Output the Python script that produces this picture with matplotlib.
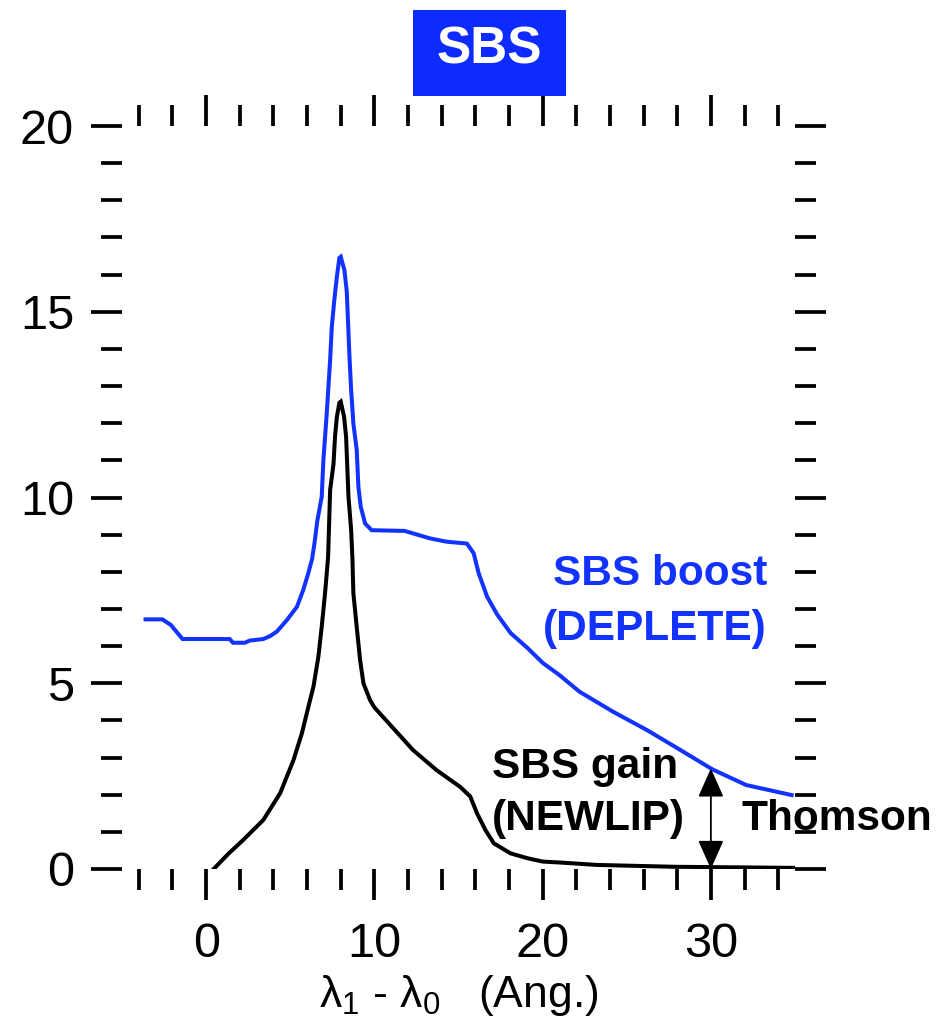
import matplotlib
matplotlib.use("Agg")
import matplotlib.pyplot as plt
from matplotlib.patches import Rectangle
import numpy as np

plt.rcParams['font.family'] = ['Liberation Sans', 'DejaVu Sans']
plt.rcParams['mathtext.fontset'] = 'custom'
plt.rcParams['mathtext.rm'] = 'Liberation Sans'
plt.rcParams['mathtext.it'] = 'Liberation Sans'

# ---- data ----
boost_x = [-3.6, -2.6, -2.1, -1.4, 1.4, 1.6, 2.3, 2.6, 3.4, 3.8, 4.2, 4.8, 5.4, 5.77,
           6.07, 6.3, 6.45, 6.6, 6.87, 6.97, 7.07, 7.17, 7.37, 7.47, 7.62, 7.77, 7.92,
           8.0, 8.22, 8.36, 8.52, 8.62, 8.75, 8.95, 9.05, 9.19, 9.45, 9.84, 11.8, 13.3,
           14.3, 15.5, 15.9, 16.2, 16.7, 17.3, 18.1, 19.1, 20.0, 21.0, 22.2, 24.2, 26.2,
           28.2, 30.1, 32.1, 34.8]
boost_y = [6.72, 6.72, 6.57, 6.19, 6.19, 6.09, 6.09, 6.15, 6.19, 6.27, 6.39, 6.70, 7.06, 7.51,
           7.96, 8.35, 8.8, 9.35, 10.02, 11.01, 11.64, 12.27, 13.70, 14.60, 15.32, 15.94, 16.45,
           16.48, 16.12, 15.54, 13.79, 12.89, 12.0, 11.28, 10.29, 9.75, 9.30, 9.12, 9.10, 8.90,
           8.81, 8.76, 8.50, 7.96, 7.33, 6.85, 6.35, 5.95, 5.55, 5.22, 4.77, 4.23, 3.74,
           3.20, 2.68, 2.26, 1.99]

gain_x = [0.45, 1.3, 2.2, 3.4, 4.4, 5.19, 5.69, 6.08, 6.38, 6.67, 6.87, 7.07, 7.25, 7.37,
          7.57, 7.66, 7.77, 7.92, 8.0, 8.2, 8.32, 8.46, 8.62, 8.7, 8.75, 8.95, 9.15, 9.35,
          9.74, 10.0, 11.0, 12.3, 13.7, 15.1, 15.7, 16.1, 16.6, 17.1, 18.1, 19.1, 20.0,
          21.2, 23.2, 27.8, 35.0]
gain_y = [0.0, 0.4, 0.78, 1.32, 2.04, 2.93, 3.65, 4.37, 4.91, 5.71, 6.52, 7.43, 8.4, 10.2,
          10.9, 11.63, 12.17, 12.55, 12.58, 12.17, 11.63, 10.02, 9.12, 8.3, 7.43, 6.52, 5.63, 5.0,
          4.55, 4.35, 3.85, 3.20, 2.66, 2.21, 1.95, 1.50, 1.05, 0.69, 0.42, 0.29, 0.20,
          0.17, 0.11, 0.06, 0.03]

thomson_x = 30
x_major = [0, 10, 20, 30]
y_major = [0, 5, 10, 15, 20]

BLUE = '#1233ff'
W, H = 947, 1029

fig = plt.figure(figsize=(W / 100, H / 100), dpi=100)
ax = fig.add_axes([122 / W, (H - 869) / H, (795 - 122) / W, (869 - 126) / H])

ax.plot(boost_x, boost_y, color=BLUE, lw=2.9, solid_joinstyle='miter')
ax.plot(gain_x, gain_y, color='black', lw=2.9, solid_joinstyle='miter')

ax.set_xlim(-5, 35)
ax.set_ylim(0, 20)
for s in ax.spines.values():
    s.set_visible(False)
ax.set_xticks(x_major)
ax.set_xticks(np.arange(-4, 35, 2), minor=True)
ax.set_yticks(y_major)
ax.set_yticks(np.arange(0, 21, 1), minor=True)
ax.tick_params(which='both', direction='out', top=True, right=True,
               labeltop=False, labelright=False, width=2.7, color='black')
ax.tick_params(which='major', length=22.5, labelsize=35, pad=12)
ax.tick_params(which='minor', length=15)
ax.tick_params(axis='x', which='major', pad=16)

ax.set_xlabel(r'$\mathregular{\lambda_1}$ - $\mathregular{\lambda_0}$   (Ang.)',
              fontsize=32, labelpad=4)

# Thomson arrow
top = float(np.interp(thomson_x, boost_x, boost_y))
ax.annotate('', xy=(thomson_x, top), xytext=(thomson_x, 0),
            arrowprops=dict(arrowstyle='<|-|>,head_length=0.9,head_width=0.4',
                            mutation_scale=20, color='black', lw=1.3,
                            shrinkA=0, shrinkB=0))

def ftxt(x, y, s, **kw):
    fig.text(x / W, 1 - y / H, s, **kw)

FS = 30.5
ftxt(767, 585, 'SBS boost', color=BLUE, fontsize=FS, fontweight='bold',
     ha='right', va='baseline')
ftxt(767, 640, '(DEPLETE)', color=BLUE, fontsize=FS, fontweight='bold',
     ha='right', va='baseline')
ftxt(492, 778, 'SBS gain', color='black', fontsize=FS, fontweight='bold',
     ha='left', va='baseline')
ftxt(492, 830, '(NEWLIP)', color='black', fontsize=FS, fontweight='bold',
     ha='left', va='baseline')
ftxt(741, 830, 'Thomson', color='black', fontsize=FS, fontweight='bold',
     ha='left', va='baseline')

# title box
fig.patches.append(Rectangle((413 / W, 1 - 96 / H), (566 - 413) / W, (96 - 10) / H,
                             transform=fig.transFigure, facecolor='#0d2bff',
                             edgecolor='none', zorder=0))
ftxt(489, 64, 'SBS', color='white', fontsize=37, fontweight='bold',
     ha='center', va='baseline')

fig.savefig('out.png', dpi=100)
